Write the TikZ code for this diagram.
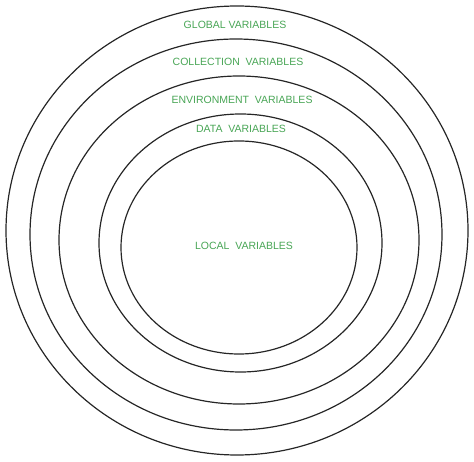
\documentclass[tikz,border=0pt]{standalone}
\usepackage{fontspec}
\setmainfont{Liberation Sans}
\definecolor{lblgreen}{RGB}{72,165,85}
\begin{document}
\begin{tikzpicture}[x=1pt,y=-1pt,
  ring/.style={draw=black!85,line width=1.2pt},
  lbl/.style={text=lblgreen,font=\fontsize{10.5}{12}\selectfont,inner sep=0pt}]
\useasboundingbox (0,0) rectangle (474,462);
\draw[ring] (237,230.5) ellipse [x radius=231,y radius=224.5];
\draw[ring] (236,234.5) ellipse [x radius=206,y radius=195.5];
\draw[ring] (239,240) ellipse [x radius=180,y radius=164];
\draw[ring] (240.5,243) ellipse [x radius=141.5,y radius=129];
\draw[ring] (239,247.5) ellipse [x radius=118,y radius=106.5];
\node[lbl] (global) at (235,25) {GLOBAL VARIABLES};
\node[lbl] (collection) at (238,62) {COLLECTION\ \ VARIABLES};
\node[lbl] (environment) at (242,100) {ENVIRONMENT\ \ VARIABLES};
\node[lbl] (data) at (241,129) {DATA\ \ VARIABLES};
\node[lbl] (local) at (244,246) {LOCAL\ \ VARIABLES};
\end{tikzpicture}
\end{document}
